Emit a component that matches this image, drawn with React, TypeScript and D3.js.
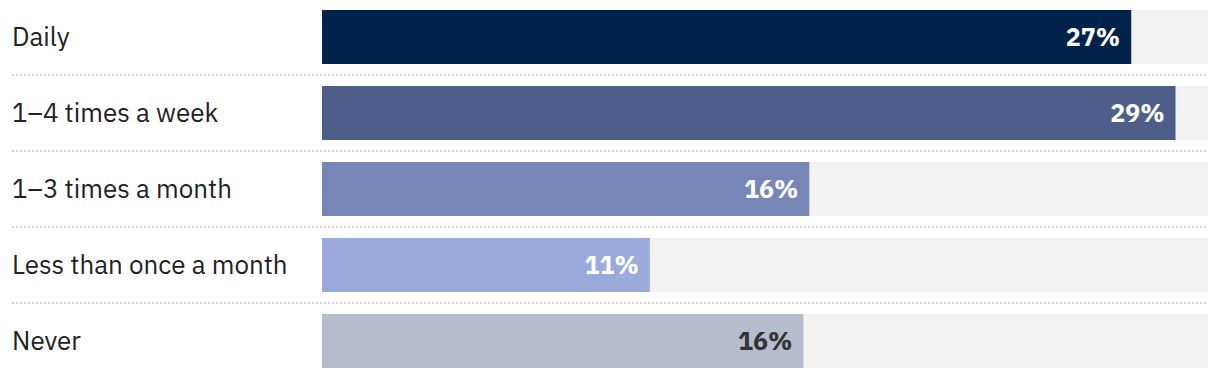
import React from "react";
import * as d3 from "d3";

const categories = ["Daily", "1–4 times a week", "1–3 times a month", "Less than once a month", "Never"];
const values = [27.4, 28.9, 16.5, 11.1, 16.3];
const labels = ["27%", "29%", "16%", "11%", "16%"];
const colors = ["#00224b", "#4d5e8b", "#7686b6", "#9aaadc", "#b6bccb"];
const labelColors = ["#ffffff", "#ffffff", "#ffffff", "#ffffff", "#333333"];

const W = 1220;
const H = 378;
const left = 322;
const right = 1208;

export default function App() {
  const x = d3.scaleLinear().domain([0, 30]).range([left, right]);
  const y = d3.scaleBand<string>().domain(categories).range([-1, 379]).paddingInner(22 / 76).paddingOuter(11 / 76);
  const bw = y.bandwidth();
  const step = y.step();
  const font = "'IBM Plex Sans', 'Noto Sans', 'Open Sans', sans-serif";
  return (
    <svg width={W} height={H} style={{ position: "absolute", left: 0, top: 0 }}>
      {categories.map((c, i) => {
        const yy = y(c)!;
        return (
          <g key={c}>
            <rect x={left} y={yy} width={right - left} height={bw} fill="#f2f2f2" />
            <rect x={left} y={yy} width={x(values[i]) - left} height={bw} fill={colors[i]} />
            <text x={12} y={yy + bw / 2} dy="0.36em" fontFamily={font} fontSize={26} fill="#222">
              {c}
            </text>
            <text
              x={x(values[i]) - 11}
              y={yy + bw / 2}
              dy="0.36em"
              textAnchor="end"
              fontFamily={font}
              fontSize={25}
              fontWeight={700}
              fill={labelColors[i]}
            >
              {labels[i]}
            </text>
            {i < categories.length - 1 && (
              <line
                x1={12}
                x2={right}
                y1={yy + bw + (step - bw) / 2}
                y2={yy + bw + (step - bw) / 2}
                stroke="#d6d6d6"
                strokeWidth={2}
                strokeDasharray="2,2"
              />
            )}
          </g>
        );
      })}
    </svg>
  );
}
